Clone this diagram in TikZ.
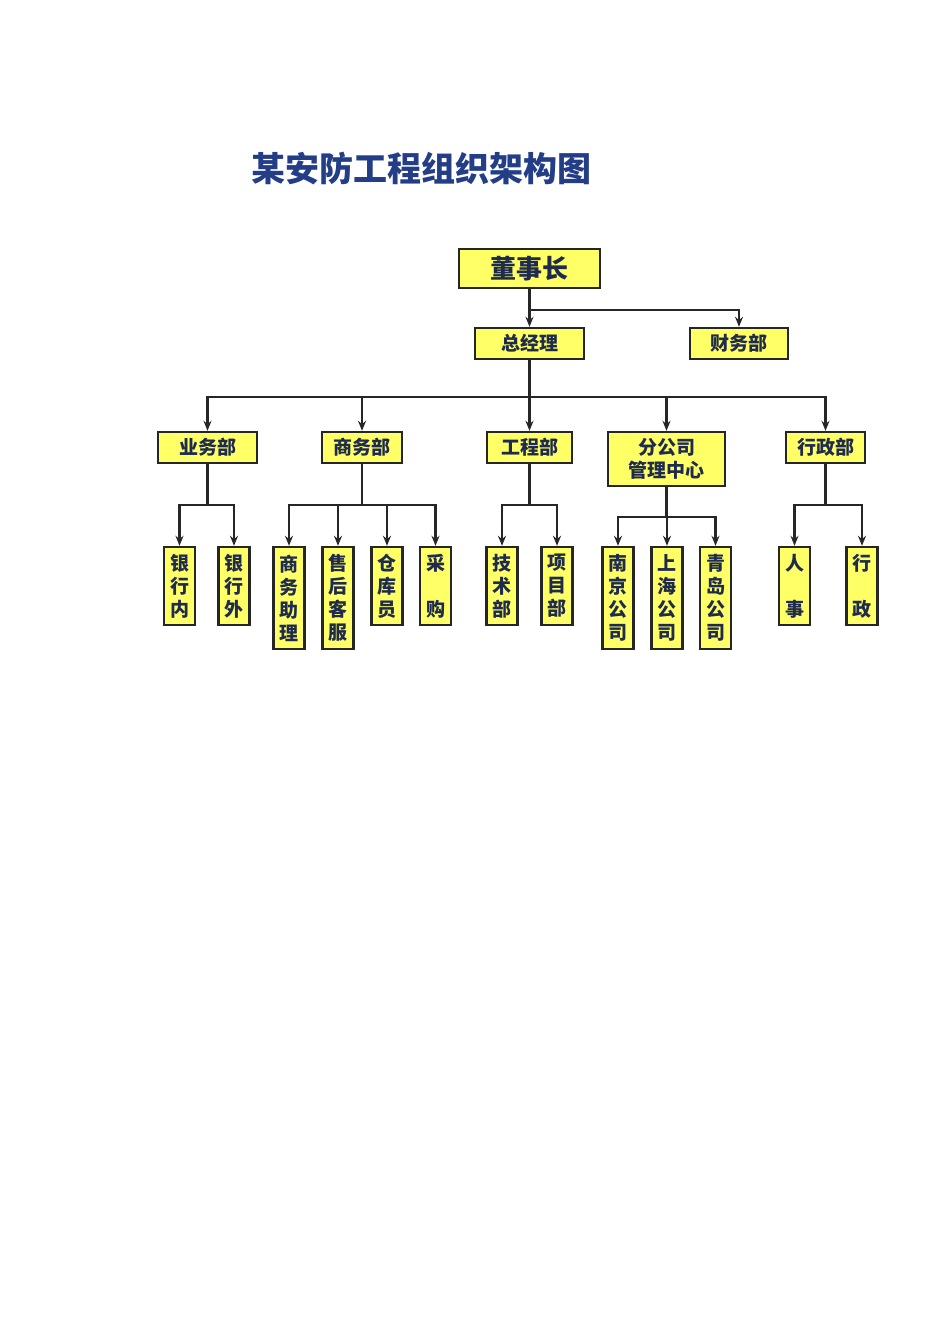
\documentclass[tikz,border=0pt]{standalone}
\usepackage{fontspec}
\newfontfamily\cjk{Noto Sans CJK SC}
\usetikzlibrary{arrows.meta}
\definecolor{boxyellow}{HTML}{FFFF66}
\definecolor{inkblue}{HTML}{1F2B4D}
\definecolor{titleblue}{HTML}{233E86}
\tikzset{
  box/.style={draw=black!85,line width=2.4pt,fill=boxyellow,inner sep=0pt,
    text=inkblue,font=\cjk\bfseries\fontsize{19}{23}\selectfont,align=center},
  vbox/.style={box,minimum width=31,minimum height=78},
  lbox/.style={box,minimum width=31,minimum height=102},
  arr/.style={line width=2.3pt,draw=black!85,-{Stealth[length=10pt,width=8pt]}}
}
\begin{document}
\begin{tikzpicture}[x=1pt,y=-1pt]
	\useasboundingbox (0,0) rectangle (950,1344);
	\node[font=\cjk\bfseries\fontsize{34}{40}\selectfont,text=titleblue] (title) at (421.5,169) {某安防工程组织架构图};
	% top levels
	\node[box,minimum width=141,minimum height=39,font=\cjk\bfseries\fontsize{26}{30}\selectfont] (dsz) at (529.5,268.5) {董事长};
	\node[box,minimum width=109,minimum height=31] (zjl) at (529.5,343.5) {总经理};
	\node[box,minimum width=98,minimum height=31] (cwb) at (739,343.5) {财务部};
	\draw[arr] (dsz.south) -- (zjl.north);
	\draw[arr] (dsz.south) -- ++(0,21) -| (cwb.north);
	% departments
	\node[box,minimum width=99,minimum height=31] (ywb) at (207.5,447.5) {业务部};
	\node[box,minimum width=80,minimum height=31] (swb) at (362,447.5) {商务部};
	\node[box,minimum width=85,minimum height=31] (gcb) at (529.5,447.5) {工程部};
	\node[box,minimum width=117,minimum height=54] (fgs) at (666.5,459) {分公司\\管理中心};
	\node[box,minimum width=79,minimum height=31] (xzb) at (825.5,447.5) {行政部};
	\foreach \d in {ywb,swb,gcb,fgs,xzb}
		\draw[arr] (zjl.south) -- ++(0,37) -| (\d.north);
	% sections
	\node[vbox] (yhn) at (179.5,586) {银\\行\\内};
	\node[vbox] (yhw) at (234,586) {银\\行\\外};
	\node[lbox] (swzl) at (289,598) {商\\务\\助\\理};
	\node[lbox] (shkf) at (338,598) {售\\后\\客\\服};
	\node[vbox] (ckr) at (387,586) {仓\\库\\员};
	\node[vbox] (cg) at (435.5,586) {采\\\mbox{}\\购};
	\node[vbox] (jsb) at (502,586) {技\\术\\部};
	\node[vbox] (xmb) at (557,586) {项\\目\\部};
	\node[lbox] (nj) at (618,598) {南\\京\\公\\司};
	\node[lbox] (sh) at (667,598) {上\\海\\公\\司};
	\node[lbox] (qd) at (715.5,598) {青\\岛\\公\\司};
	\node[vbox] (rs) at (794.5,586) {人\\\mbox{}\\事};
	\node[vbox] (xz) at (862,586) {行\\\mbox{}\\政};
	\foreach \s in {yhn,yhw}
		\draw[arr] (ywb.south) -- ++(0,41) -| (\s.north);
	\foreach \s in {swzl,shkf,ckr,cg}
		\draw[arr] (swb.south) -- ++(0,41) -| (\s.north);
	\foreach \s in {jsb,xmb}
		\draw[arr] (gcb.south) -- ++(0,41) -| (\s.north);
	\foreach \s in {nj,sh,qd}
		\draw[arr] (fgs.south) -- ++(0,30) -| (\s.north);
	\foreach \s in {rs,xz}
		\draw[arr] (xzb.south) -- ++(0,41) -| (\s.north);
\end{tikzpicture}
\end{document}
